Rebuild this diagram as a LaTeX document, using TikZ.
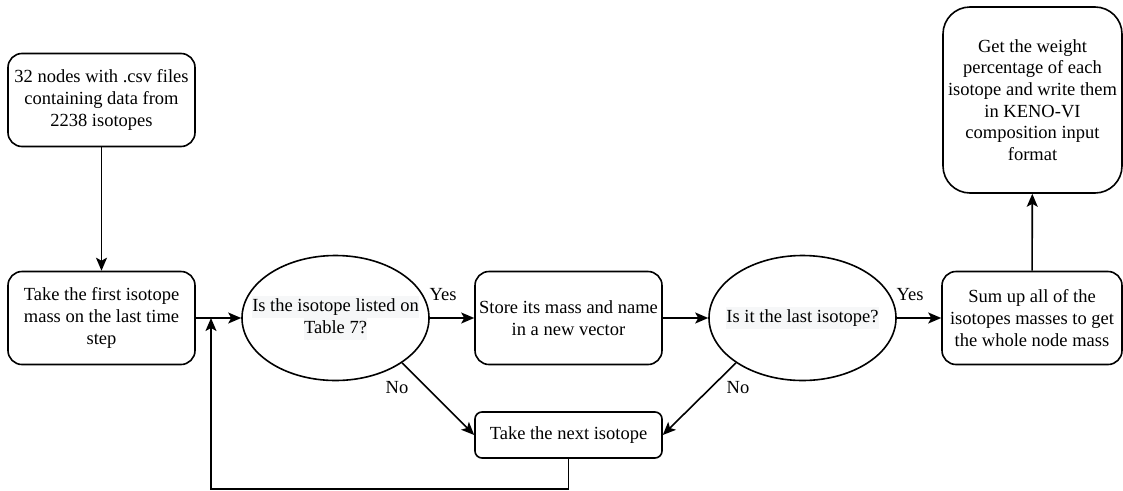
\documentclass[tikz,border=0pt]{standalone}
\usepackage{fontspec}
\setmainfont{Liberation Serif}
\usetikzlibrary{arrows.meta,shapes.geometric}
\definecolor{hlgray}{RGB}{246,247,248}
\newcommand{\hl}[1]{{\setlength{\fboxsep}{0pt}\colorbox{hlgray}{\strut #1}}}

\begin{document}
\begin{tikzpicture}
  [x=1pt,y=-1pt,line width=1.6pt,>={Stealth[length=13pt,width=11pt,inset=3pt]},
   every node/.style={font=\fontsize{18.5}{21.7}\selectfont,align=center}]
  \tikzstyle{box} = [draw,rectangle,rounded corners=14pt,minimum width=187pt,minimum height=93pt,inner sep=0pt]
  \tikzstyle{test} = [draw,ellipse,minimum width=187pt,minimum height=125pt,inner xsep=-20pt,inner ysep=0pt]
  \tikzstyle{answer} = [inner sep=0pt]
  \useasboundingbox (0,0) rectangle (1123,490);
  \node[box] (data) at (101.5,100) {32 nodes with .csv files\\containing data from\\2238 isotopes};
  \node[box] (first) at (101.5,318) {Take the first isotope\\mass on the last time\\step};
  \node[test] (check) at (335.5,318) {\hl{Is the isotope listed on}\\\hl{Table 7?}};
  \node[box] (store) at (568.5,318) {Store its mass and name\\in a new vector};
  \node[test] (last) at (802.5,318) {\hl{Is it the last isotope?}};
  \node[box,minimum width=180pt] (sum) at (1032,318) {Sum up all of the\\isotopes masses to get\\the whole node mass};
  \node[box,minimum width=179pt,minimum height=186pt,rounded corners=27pt] (result) at (1032.5,100) {Get the weight\\percentage of each\\isotope and write them\\in KENO-VI\\composition input\\format};
  \node[box,minimum height=46pt,rounded corners=7pt] (next) at (568.5,435) {Take the next isotope};
  \node[answer] (yes1) at (443,295) {Yes};
  \node[answer] (yes2) at (910,295) {Yes};
  \node[answer] (no1) at (397,388) {No};
  \node[answer] (no2) at (738,388) {No};
  \coordinate (back) at (211,318);
\foreach \source /\dest in {data/first,first/check,check/store,store/last,last/sum,sum/result}
   \draw[->] (\source) -- (\dest);
  \draw[->] (check.-34) -- (next.west);
  \draw[->] (last.214) -- (next.east);
  \draw[->] (next.south) -- ++(0,30) -| (back);
\end{tikzpicture}
\end{document}
